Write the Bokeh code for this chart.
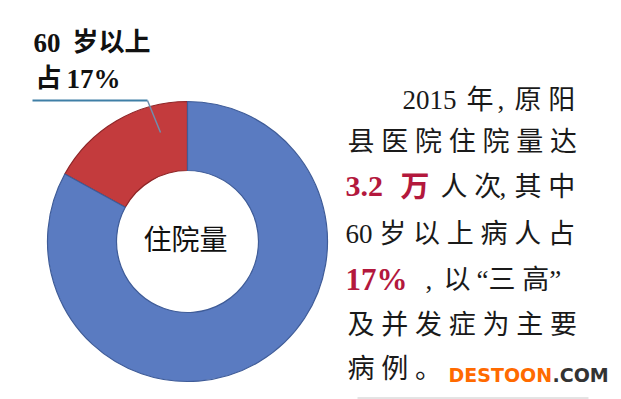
import numpy as np
from bokeh.plotting import figure
from bokeh.models import Range1d, ColumnDataSource
from bokeh.core.properties import value
from bokeh.embed import file_html
from bokeh.resources import INLINE

# ---- data ----
categories = ["60岁以上", "其他"]
shares = [17, 83]
slice_colors = ["#c33b3d", "#5a7bc1"]
slice_lines = ["#8f2628", "#3f5c98"]
center_label = "住院量"
callout_lines = ["60 岁以上", "占 17%"]

W, H = 621, 399
SH = 399  # data y = SH - screen_y

p = figure(width=W, height=H, output_backend="svg", toolbar_location=None,
           x_range=Range1d(0, W), y_range=Range1d(SH - H, SH),
           min_border=0, outline_line_color=None)
p.axis.visible = False
p.grid.visible = False
p.background_fill_color = "white"
p.border_fill_color = "white"

def Y(sy):
    return SH - sy

# ---- donut ----
frac = np.array(shares, dtype=float) / sum(shares)
ends = np.pi / 2 + 2 * np.pi * np.cumsum(frac)
starts = np.concatenate([[np.pi / 2], ends[:-1]])
src = ColumnDataSource(dict(cat=categories, start=starts, end=ends,
                            fill=slice_colors, line=slice_lines))
cx, cy = 187, Y(241)
p.annular_wedge(x=cx, y=cy, inner_radius=71, outer_radius=140,
                inner_radius_units="screen", outer_radius_units="screen",
                start_angle="start", end_angle="end", source=src,
                fill_color="fill", line_color="line", line_width=1.2)

SERIF = "'Liberation Serif', 'Noto Sans CJK SC'"
SANS_CJK = "'Noto Sans CJK SC'"
DY = -2  # visual centre correction for text

def txt(x, sy, s, size, color="#1a1a1a", bold=False, font=SERIF, align="left"):
    p.text(x=[x], y=[Y(sy + DY)], text=[s], text_font=value(font),
           text_font_size=f"{size}px", text_color=color,
           text_font_style="bold" if bold else "normal",
           text_align=align, text_baseline="middle")

# center label
txt(185, 239, center_label, 28, color="#111111", font=SANS_CJK, align="center")

# callout label
l1a, l1b = callout_lines[0].split(" ", 1)
l2a, l2b = callout_lines[1].split(" ", 1)
txt(33, 44, l1a, 27, color="#111111", bold=True)
txt(72, 44, l1b, 26, color="#111111", bold=True)
txt(35, 80, l2a, 26, color="#111111", bold=True)
txt(66, 80, l2b, 27, color="#111111", bold=True)
p.line(x=[32, 147], y=[Y(100), Y(100)], line_color="#3f7fa6", line_width=2)
p.line(x=[147, 160], y=[Y(100), Y(132)], line_color="#6f8fae", line_width=1.5)

# paragraph
RED = "#b3183d"
FS = 27
txt(402, 101, "2015", FS)
txt(466, 101, "年", FS)
txt(497, 101, ",", FS)
txt(514, 101, "原 阳", FS)

txt(347, 143, "县 医 院 住 院 量 达", FS)

txt(345, 188, "3.2", 30, color=RED, bold=True)
txt(400, 188, "万", 29, color=RED, bold=True)
txt(440, 188, "人 次", FS)
txt(499, 188, ",", FS)
txt(514, 188, "其 中", FS)

txt(345, 235, "60 岁 以 上 病 人 占", FS)

txt(345, 281, "17%", 31, color=RED, bold=True)
txt(425, 281, ",", FS)
txt(443, 281, "以", FS)
txt(476, 281, "“三 高”", FS)

txt(347, 326, "及 并 发 症 为 主 要", FS)
txt(347, 370, "病 例 。", FS)

# watermark
txt(448, 376, "DESTOON", 19, color="#ff6a00", bold=True, font="'DejaVu Sans'")
txt(552, 376, ".COM", 19, color="#333333", bold=True, font="'DejaVu Sans'")

# bottom rule
p.line(x=[357, 588], y=[Y(397.5), Y(397.5)], line_color="#c8c8c8", line_width=1)

open("out.html", "w").write(file_html(p, INLINE))
